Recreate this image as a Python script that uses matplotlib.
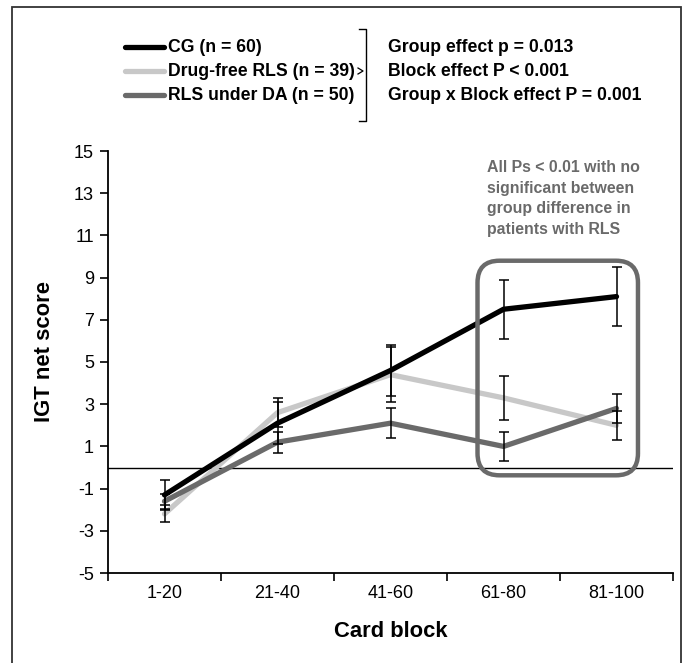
import numpy as np
import matplotlib
matplotlib.use("Agg")
import matplotlib.pyplot as plt
from matplotlib.patches import FancyBboxPatch

plt.rcParams["font.family"] = ["Liberation Sans", "DejaVu Sans"]
plt.rcParams["axes.unicode_minus"] = False

blocks = ["1-20", "21-40", "41-60", "61-80", "81-100"]
cgMean = [-1.3, 2.1, 4.6, 7.5, 8.1]
cgErr = [0.7, 1.0, 1.2, 1.4, 1.4]
freeMean = [-2.2, 2.6, 4.4, 3.3, 2.0]
freeErr = [0.4, 0.7, 1.3, 1.05, 0.7]
daMean = [-1.6, 1.2, 2.1, 1.0, 2.8]
daErr = [0.35, 0.5, 0.7, 0.7, 0.7]

groups = ["CG (n = 60)", "Drug-free RLS (n = 39)", "RLS under DA (n = 50)"]
colors = ["#000000", "#c8c8c8", "#6a6a6a"]
stats = ["Group effect p = 0.013", "Block effect P < 0.001", "Group x Block effect P = 0.001"]
note = "All Ps < 0.01 with no\nsignificant between\ngroup difference in\npatients with RLS"

fig = plt.figure(figsize=(6.87, 6.63), dpi=100)
ax = fig.add_axes([108/687, 1-573/663, (673-108)/687, (573-151)/663])
x = np.arange(len(blocks))

series = [(freeMean, freeErr, colors[1]), (daMean, daErr, colors[2]), (cgMean, cgErr, colors[0])]
for m, e, c in series:
    ax.plot(x, m, color=c, lw=3.8, solid_capstyle="round", zorder=3)
for m, e, c in series:
    ax.errorbar(x, m, yerr=e, fmt="none", ecolor="black", elinewidth=1.1, capsize=3.5, capthick=1.1, zorder=4)

ax.axhline(0, color="black", lw=1.0, zorder=2)
ax.set_xlim(-0.5, 4.5)
ax.set_ylim(-5, 15)
ax.set_yticks(np.arange(-5, 16, 2))
ax.set_xticks(np.arange(-0.5, 5, 1))
ax.set_xticklabels([])
ax.set_xticks(x, minor=True)
ax.set_xticklabels(blocks, minor=True)
ax.tick_params(axis="x", which="minor", length=0, pad=9, labelsize=13)
ax.tick_params(axis="x", which="major", length=6, width=1.2, direction="out")
ax.tick_params(axis="y", length=6, width=1.2, labelsize=13, pad=4)
for s in ["top", "right"]:
    ax.spines[s].set_visible(False)
for s in ["left", "bottom"]:
    ax.spines[s].set_linewidth(1.3)
ax.set_xlabel("Card block", fontsize=15.8, fontweight="bold", labelpad=13)
ax.set_ylabel("IGT net score", fontsize=15.8, fontweight="bold")
ax.yaxis.set_label_coords(-0.094, 0.524)

# rounded box around the last two blocks
p0 = ax.transData.transform((2.77, -0.37))
p1 = ax.transData.transform((4.19, 9.8))
box = FancyBboxPatch(p0, p1[0]-p0[0], p1[1]-p0[1], boxstyle="round,pad=0,rounding_size=22",
                     transform=None, fill=False, ec="#6a6a6a", lw=3.2, zorder=5)
fig.patches.append(box)
ax.text(2.855, 14.55, note, color="#6a6a6a", fontsize=11.4, fontweight="bold",
        va="top", ha="left", linespacing=1.45)

# legend
for i, (g, c) in enumerate(zip(groups, colors)):
    yy = 1 - (47 + 24*i)/663
    fig.add_artist(plt.Line2D([125/687, 164/687], [yy, yy], color=c, lw=3.8, solid_capstyle="round"))
    fig.text(168/687, yy, g, fontsize=12.7, fontweight="bold", va="center", ha="left")
    fig.text(388/687, yy, stats[i], fontsize=12.7, fontweight="bold", va="center", ha="left")

# bracket
bx = 366/687
fig.add_artist(plt.Line2D([359/687, bx, bx, 359/687], [1-29/663, 1-29/663, 1-121/663, 1-121/663],
                          color="black", lw=1.0))
fig.add_artist(plt.Line2D([358/687, 363/687, 358/687], [1-68/663, 1-71/663, 1-74/663], color="black", lw=0.9))

# frame
fig.add_artist(plt.Rectangle((12/687, -0.01), (681-12)/687, 1-7/663+0.01, fill=False,
                             ec="#333333", lw=1.3))

fig.savefig("out.png", dpi=100)
